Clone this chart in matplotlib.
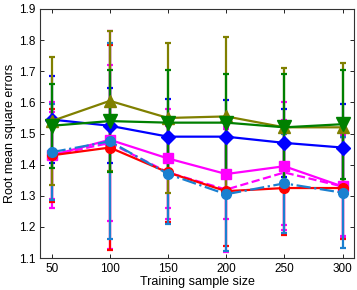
import matplotlib
matplotlib.use("Agg")
import matplotlib.pyplot as plt

plt.rcParams['font.family'] = ['Liberation Sans', 'DejaVu Sans']

sizes = [50, 100, 150, 200, 250, 300]

# series: means and error half-widths
mag_solid = [1.43, 1.48, 1.42, 1.37, 1.395, 1.33]
mag_solid_err = [0.17, 0.35, 0.16, 0.145, 0.205, 0.165]
mag_dash = [1.43, 1.47, 1.375, 1.32, 1.375, 1.33]
mag_dash_err = [0.14, 0.25, 0.15, 0.20, 0.17, 0.16]
red = [1.43, 1.455, 1.375, 1.315, 1.325, 1.325]
red_err = [0.15, 0.33, 0.16, 0.177, 0.152, 0.165]
cyan = [1.44, 1.475, 1.37, 1.305, 1.34, 1.31]
cyan_err = [0.155, 0.315, 0.16, 0.183, 0.16, 0.179]
blue = [1.545, 1.525, 1.49, 1.49, 1.47, 1.455]
blue_err = [0.14, 0.12, 0.12, 0.117, 0.108, 0.14]
olive = [1.54, 1.605, 1.55, 1.555, 1.52, 1.52]
olive_err = [0.205, 0.225, 0.24, 0.255, 0.19, 0.205]
green = [1.525, 1.54, 1.535, 1.535, 1.52, 1.53]
green_err = [0.135, 0.165, 0.17, 0.155, 0.17, 0.175]

fig = plt.figure(figsize=(3.57, 2.9), dpi=100)
ax = fig.add_axes([0.112, 0.110, 0.880, 0.859])

lw = 1.6
cs = 2.5
specs = [
    (mag_solid, mag_solid_err, '#ff00ff', '-', 's', 7),
    (mag_dash, mag_dash_err, '#ff00ff', '--', None, 0),
    (red, red_err, '#ff0000', '-', 'o', 7),
    (cyan, cyan_err, '#1a80d0', '-.', 'o', 7),
    (blue, blue_err, '#0000ff', '-', 'D', 7),
    (olive, olive_err, '#808000', '-', '^', 9),
    (green, green_err, '#008000', '-', 'v', 10),
]
for y, e, c, ls, m, ms in specs:
    ax.errorbar(sizes, y, yerr=e, color=c, linestyle=ls, marker=m, markersize=ms,
                linewidth=lw, elinewidth=lw, capsize=cs, capthick=lw,
                markeredgecolor=c, markerfacecolor=c)

ax.set_xlim(40, 310)
ax.set_ylim(1.1, 1.9)
ax.set_xticks(sizes)
ax.set_yticks([1.1, 1.2, 1.3, 1.4, 1.5, 1.6, 1.7, 1.8, 1.9])
ax.tick_params(direction='in', top=True, right=True, labelsize=8.5, length=3, width=0.6)
for s in ax.spines.values():
    s.set_linewidth(0.8)
    s.set_color('#333333')
ax.set_xlabel('Training sample size', fontsize=9, labelpad=1)
ax.set_ylabel('Root mean square errors', fontsize=9, labelpad=2)

fig.savefig('out.png', dpi=100)
